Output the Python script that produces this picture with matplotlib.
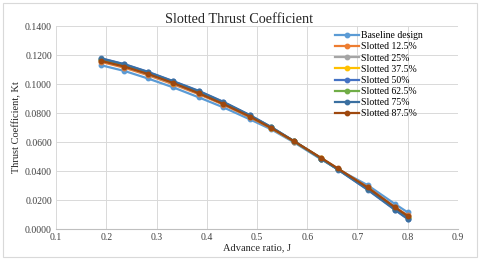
import matplotlib.pyplot as plt
from matplotlib.patches import Rectangle
from matplotlib.ticker import FormatStrFormatter

J = [0.19, 0.236, 0.282, 0.333, 0.384, 0.433, 0.486, 0.528, 0.574, 0.628, 0.661, 0.72, 0.775, 0.80]

series_names = [
    "Baseline design",
    "Slotted 12.5%",
    "Slotted 25%",
    "Slotted 37.5%",
    "Slotted 50%",
    "Slotted 62.5%",
    "Slotted 75%",
    "Slotted 87.5%",
]

kt_baseline = [0.1129, 0.1090, 0.1039, 0.0977, 0.0908, 0.0839, 0.0756, 0.0688, 0.0597, 0.0480, 0.0412, 0.0303, 0.0172, 0.0115]
kt_s125 = [0.1152, 0.1112, 0.1062, 0.0998, 0.0930, 0.0858, 0.0770, 0.0695, 0.0602, 0.0486, 0.0415, 0.0289, 0.0150, 0.0094]
kt_s25 = [0.1160, 0.1120, 0.1068, 0.1004, 0.0936, 0.0863, 0.0774, 0.0697, 0.0603, 0.0487, 0.0415, 0.0286, 0.0146, 0.0088]
kt_s375 = [0.1166, 0.1126, 0.1074, 0.1010, 0.0942, 0.0868, 0.0778, 0.0699, 0.0604, 0.0487, 0.0414, 0.0283, 0.0141, 0.0083]
kt_s50 = [0.1177, 0.1137, 0.1085, 0.1020, 0.0953, 0.0877, 0.0785, 0.0704, 0.0605, 0.0485, 0.0410, 0.0271, 0.0131, 0.0069]
kt_s625 = [0.1170, 0.1130, 0.1079, 0.1014, 0.0946, 0.0872, 0.0781, 0.0701, 0.0604, 0.0486, 0.0412, 0.0278, 0.0137, 0.0077]
kt_s75 = [0.1175, 0.1135, 0.1083, 0.1018, 0.0950, 0.0875, 0.0784, 0.0703, 0.0605, 0.0486, 0.0411, 0.0274, 0.0134, 0.0072]
kt_s875 = [0.1159, 0.1120, 0.1070, 0.1007, 0.0936, 0.0862, 0.0775, 0.0697, 0.0605, 0.0490, 0.0418, 0.0287, 0.0149, 0.0090]

all_kt = [kt_baseline, kt_s125, kt_s25, kt_s375, kt_s50, kt_s625, kt_s75, kt_s875]
colors = ["#5B9BD5", "#ED7D31", "#A5A5A5", "#FFC000", "#4472C4", "#70AD47", "#3A6FA0", "#9E480E"]

plt.rcParams["font.family"] = ["Liberation Serif", "DejaVu Serif"]

fig = plt.figure(figsize=(4.8, 2.6), dpi=100)
fig.patches.append(Rectangle((0.006, 0.012), 0.988, 0.976, transform=fig.transFigure,
                             fill=False, edgecolor="#D9D9D9", linewidth=0.8))
ax = fig.add_axes([0.117, 0.119, 0.837, 0.781])

for name, kt, c in zip(series_names, all_kt, colors):
    ax.plot(J, kt, color=c, linewidth=1.6, marker="o", markersize=3.2, label=name)

ax.set_xlim(0.1, 0.9)
ax.set_ylim(0, 0.14)
ax.set_xticks([0.1, 0.2, 0.3, 0.4, 0.5, 0.6, 0.7, 0.8, 0.9])
ax.set_yticks([0, 0.02, 0.04, 0.06, 0.08, 0.10, 0.12, 0.14])
ax.xaxis.set_major_formatter(FormatStrFormatter("%.1f"))
ax.yaxis.set_major_formatter(FormatStrFormatter("%.4f"))
ax.tick_params(length=0, labelsize=7, colors="#404040", pad=3)
ax.grid(True, color="#D9D9D9", linewidth=0.7)
ax.set_axisbelow(True)
for side in ["top", "right", "left"]:
    ax.spines[side].set_visible(False)
ax.spines["bottom"].set_color("#BFBFBF")

# title sits over the whole chart, not just the plot area
fig.text(0.498, 0.925, "Slotted Thrust Coefficient", fontsize=10.3, color="#262626",
         ha="center", va="center")
ax.set_xlabel("Advance ratio, J", fontsize=7.5, color="#262626", labelpad=1)
ax.set_ylabel("Thrust Coefficient, Kt", fontsize=7.5, color="#262626", labelpad=3)

ax.legend(loc="upper right", bbox_to_anchor=(0.925, 1.0), frameon=False, fontsize=7,
          handlelength=2.4, handletextpad=0.2, labelspacing=0.22, borderaxespad=0.15)

fig.savefig("out.png", dpi=100)
